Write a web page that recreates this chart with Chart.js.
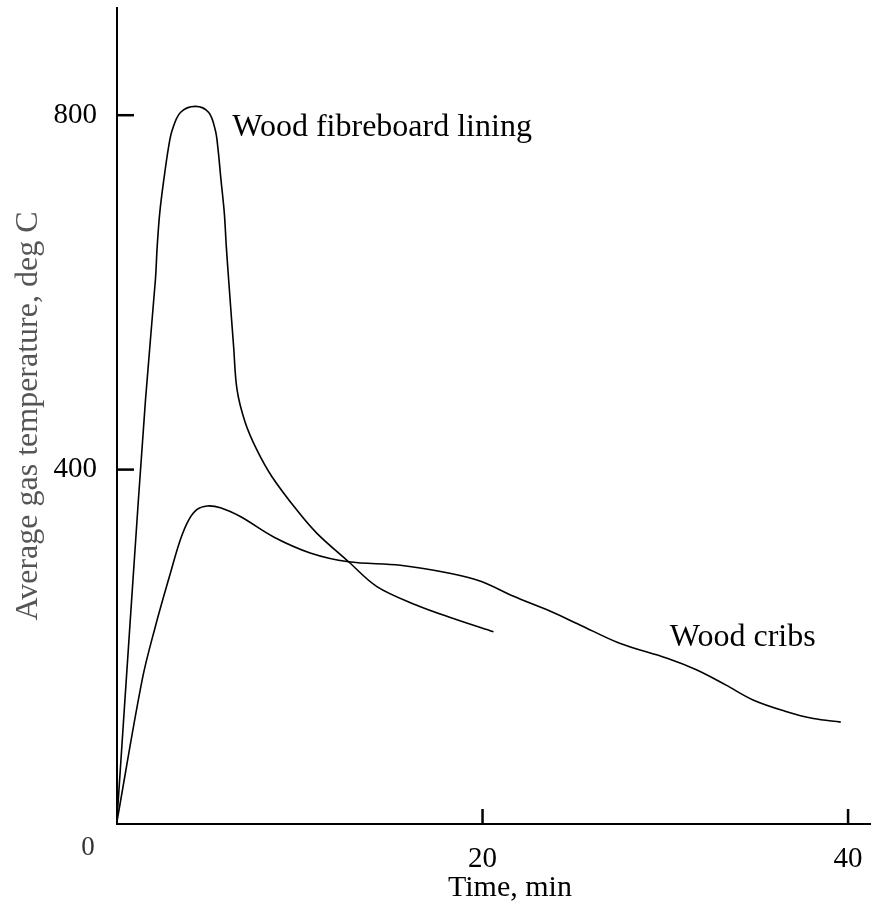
<!DOCTYPE html>
<html>
<head>
<meta charset="utf-8">
<script src="https://cdn.jsdelivr.net/npm/chart.js@4/dist/chart.umd.min.js"></script>
<style>
  html, body { margin: 0; padding: 0; background: #fff; }
  #wrap { width: 891px; height: 909px; }
</style>
</head>
<body>
<div id="wrap"><canvas id="gasChart" width="891" height="909"></canvas></div>
<script>
// values (time in min, temperature in deg C)
const fibreTime = [0, 0.8, 1.56, 2.1, 2.2, 2.34, 2.56, 2.83, 3.02, 3.47, 4.29, 5.02, 5.38, 5.51, 5.69, 5.87, 5.98, 6.11, 6.38, 6.57, 7.02, 7.66, 8.48, 9.85, 10.94, 12.67, 14.22, 16.4, 18.4, 20.6];
const fibreTemp = [5, 253, 479, 614, 652, 690, 727, 765, 783, 803, 810, 803, 783, 765, 727, 690, 652, 614, 539, 490, 453, 422, 392, 354, 328, 296, 268, 247, 232, 217];

const cribTime = [0, 1.38, 2.1, 2.92, 3.47, 3.92, 4.38, 4.93, 5.66, 6.75, 8.57, 10.57, 12.67, 15.5, 18.2, 19.9, 21.7, 23.5, 25.3, 27.5, 30.1, 31.7, 33.3, 34.8, 36.6, 38.1, 39.6];
const cribTemp = [3, 163, 223, 283, 321, 343, 355, 359, 357, 347, 324, 306, 296, 292, 283, 274, 257, 242, 225, 204, 187, 174, 157, 140, 127, 119, 115];

const xTicks = [20, 40];
const yTicks = [400, 800];

// curve labels, placed at data positions (left edge, middle of text)
const curveLabels = ['Wood fibreboard lining', 'Wood cribs'];
const curveLabelTime = [6.31, 30.25];
const curveLabelTemp = [786, 210];

const serif = '"Liberation Serif", "Times New Roman", serif';

function toPoints(xs, ys) {
    return xs.map((x, i) => ({ x: x, y: ys[i] }));
}

// draws tick marks pointing into the plot, the lone "0", the curve names and the x title
const extrasPlugin = {
    id: 'extras',
    afterDraw(chart) {
        const ctx = chart.ctx;
        const xs = chart.scales.x;
        const ys = chart.scales.y;
        const area = chart.chartArea;
        ctx.save();
        ctx.strokeStyle = '#000';
        ctx.lineWidth = 2.5;
        yTicks.forEach(v => {
            const py = ys.getPixelForValue(v);
            ctx.beginPath();
            ctx.moveTo(area.left, py);
            ctx.lineTo(area.left + 17, py);
            ctx.stroke();
        });
        xTicks.forEach(v => {
            const px = xs.getPixelForValue(v);
            ctx.beginPath();
            ctx.moveTo(px, area.bottom);
            ctx.lineTo(px, area.bottom - 15);
            ctx.stroke();
        });

        ctx.fillStyle = '#000';
        ctx.font = '32px ' + serif;
        ctx.textAlign = 'left';
        ctx.textBaseline = 'middle';
        curveLabels.forEach((txt, i) => {
            ctx.fillText(txt, xs.getPixelForValue(curveLabelTime[i]), ys.getPixelForValue(curveLabelTemp[i]));
        });

        ctx.fillStyle = '#333';
        ctx.font = '27px ' + serif;
        ctx.textAlign = 'center';
        ctx.fillText('0', area.left - 29, area.bottom + 24);

        ctx.fillStyle = '#000';
        ctx.font = '30px ' + serif;
        ctx.fillText('Time, min', xs.getPixelForValue(21.5), area.bottom + 64);
        ctx.restore();
    }
};

new Chart(document.getElementById('gasChart').getContext('2d'), {
    type: 'line',
    data: {
        datasets: [
            {
                label: 'Wood fibreboard lining',
                data: toPoints(fibreTime, fibreTemp),
                borderColor: '#000',
                borderWidth: 1.6,
                pointRadius: 0,
                tension: 0.35,
                fill: false
            },
            {
                label: 'Wood cribs',
                data: toPoints(cribTime, cribTemp),
                borderColor: '#000',
                borderWidth: 1.6,
                pointRadius: 0,
                tension: 0.35,
                fill: false
            }
        ]
    },
    options: {
        responsive: false,
        animation: false,
        devicePixelRatio: 1,
        layout: { padding: { top: 8, right: 21, left: 0, bottom: 0 } },
        plugins: {
            legend: { display: false },
            tooltip: { enabled: false }
        },
        scales: {
            x: {
                type: 'linear',
                min: 0,
                max: 41.2,
                afterBuildTicks: s => { s.ticks = xTicks.map(v => ({ value: v })); },
                afterFit: s => { s.height = 85; s.paddingLeft = 0; s.paddingRight = 0; },
                grid: { display: false, drawTicks: false },
                border: { display: true, color: '#000', width: 2 },
                ticks: {
                    color: '#000',
                    font: { family: serif, size: 29 },
                    padding: 18,
                    maxRotation: 0,
                    callback: v => String(v)
                }
            },
            y: {
                min: 0,
                max: 921,
                afterBuildTicks: s => { s.ticks = yTicks.map(v => ({ value: v })); },
                afterFit: s => { s.width = 117; s.paddingTop = 0; s.paddingBottom = 0; },
                grid: { display: false, drawTicks: false },
                border: { display: true, color: '#000', width: 2 },
                ticks: {
                    color: '#000',
                    font: { family: serif, size: 29 },
                    padding: 20,
                    callback: v => String(v)
                },
                title: {
                    display: true,
                    text: 'Average gas temperature, deg C',
                    color: '#555',
                    font: { family: serif, size: 32 },
                    padding: { top: 9, bottom: 0 }
                }
            }
        }
    },
    plugins: [extrasPlugin]
});
</script>
</body>
</html>
